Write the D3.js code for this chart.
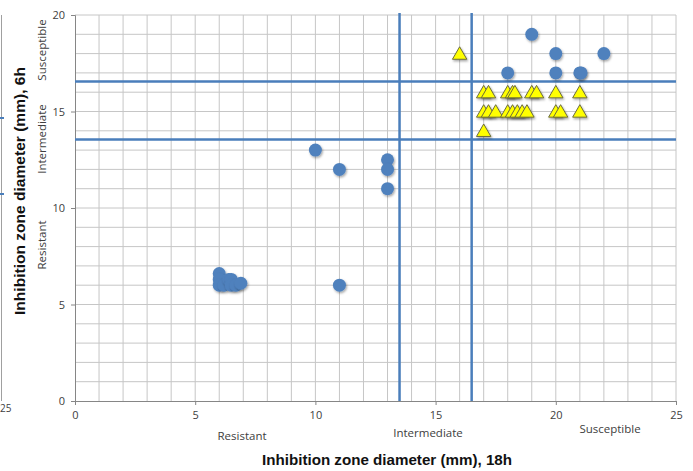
<!DOCTYPE html>
<html>
<head>
<meta charset="utf-8">
<script src="https://cdn.jsdelivr.net/npm/d3@7"></script>
<style>
  body { margin: 0; background: #fff; }
  svg { display: block; }
</style>
</head>
<body>
<script>
const w = 693;
const h = 471;

// circles: [18h diameter, 6h diameter]
const circlePoints = [
  [19, 19], [20, 18], [22, 18], [18, 17], [20, 17], [21, 17], [21.05, 17],
  [10, 13], [11, 12], [13, 12.5], [13, 12], [13, 11], [11, 6],
  [6, 6.6], [6, 6.3], [6, 6], [6.2, 6], [6.4, 6.3], [6.5, 6.3], [6.5, 6], [6.7, 6], [6.9, 6.1]
];
// triangles
const trianglePoints = [
  [16, 18], [17, 14],
  [17, 16], [17.2, 16], [18, 16], [18.2, 16], [18.3, 16], [19, 16], [19.2, 16], [20, 16], [21, 16],
  [17, 15], [17.2, 15], [17.5, 15], [18, 15], [18.2, 15], [18.4, 15], [18.6, 15], [18.8, 15], [20, 15], [20.2, 15], [21, 15]
];
const xCutoffs = [13.5, 16.5];
const yCutoffs = [13.5, 16.5];
const xTicks = [0, 5, 10, 15, 20, 25];
const yTicks = [0, 5, 10, 15, 20];
const xCategories = [
  { label: "Resistant", x: 242, y: 437 },
  { label: "Intermediate", x: 428, y: 434 },
  { label: "Susceptible", x: 610, y: 430 }
];
const yCategories = [
  { label: "Susceptible", y: 50 },
  { label: "Intermediate", y: 139 },
  { label: "Resistant", y: 245 }
];

const blue = "#4a7ebb";
const tickFont = "'Open Sans', sans-serif";

const svg = d3.select("body")
  .append("svg")
  .attr("width", w)
  .attr("height", h);

let xScale = d3.scaleLinear().domain([0, 25]).range([75, 676]);
let yScale = d3.scaleLinear().domain([0, 20]).range([401, 15]);

// leftover piece of a neighbouring chart at the left edge
svg.append("line")
  .attr("x1", 1.5).attr("x2", 1.5).attr("y1", 15).attr("y2", 401)
  .attr("stroke", "#a0a0a0").attr("stroke-width", 1);
[118, 194].forEach(y => {
  svg.append("line")
    .attr("x1", 0).attr("x2", 4).attr("y1", y).attr("y2", y)
    .attr("stroke", blue).attr("stroke-width", 2);
});
svg.append("text")
  .attr("x", 0).attr("y", 412)
  .style("font-family", tickFont).style("font-size", "10px").attr("fill", "#404040")
  .text("25");

// gridlines
svg.append("g")
  .selectAll("line")
  .data(d3.range(1, 26))
  .enter()
  .append("line")
  .attr("x1", d => xScale(d)).attr("x2", d => xScale(d))
  .attr("y1", yScale(20)).attr("y2", yScale(0))
  .attr("stroke", "#c6c6c6").attr("stroke-width", 1);
svg.append("g")
  .selectAll("line")
  .data(d3.range(1, 21))
  .enter()
  .append("line")
  .attr("x1", xScale(0)).attr("x2", xScale(25))
  .attr("y1", d => yScale(d)).attr("y2", d => yScale(d))
  .attr("stroke", "#c6c6c6").attr("stroke-width", 1);

// axes
let xAxis = d3.axisBottom(xScale).tickValues(xTicks).tickSize(4).tickPadding(6).tickFormat(d3.format("d"));
let yAxis = d3.axisLeft(yScale).tickValues(yTicks).tickSize(4).tickPadding(6).tickFormat(d3.format("d"));

let xAxisGroup = svg.append("g")
  .attr("transform", `translate(0, ${yScale(0)})`)
  .call(xAxis);
let yAxisGroup = svg.append("g")
  .attr("transform", `translate(${xScale(0)}, 0)`)
  .call(yAxis);

[xAxisGroup, yAxisGroup].forEach(g => {
  g.select(".domain").attr("stroke", "#868686");
  g.selectAll(".tick line").attr("stroke", "#868686");
  g.selectAll(".tick text")
    .style("font-family", tickFont)
    .style("font-size", "11px")
    .attr("fill", "#404040");
});

// cutoff lines
svg.append("g")
  .selectAll("line")
  .data(xCutoffs)
  .enter()
  .append("line")
  .attr("x1", d => xScale(d)).attr("x2", d => xScale(d))
  .attr("y1", yScale(20) - 2).attr("y2", yScale(0))
  .attr("stroke", blue).attr("stroke-width", 2.5);
svg.append("g")
  .selectAll("line")
  .data(yCutoffs)
  .enter()
  .append("line")
  .attr("x1", xScale(0)).attr("x2", xScale(25))
  .attr("y1", d => yScale(d) - 1).attr("y2", d => yScale(d) - 1)
  .attr("stroke", blue).attr("stroke-width", 2.5);

// markers
let defs = svg.append("defs");
let shadow = defs.append("filter").attr("id", "shadow")
  .attr("x", "-50%").attr("y", "-50%").attr("width", "200%").attr("height", "200%");
shadow.append("feDropShadow")
  .attr("dx", 1).attr("dy", 1.5).attr("stdDeviation", 1)
  .attr("flood-color", "#000").attr("flood-opacity", 0.35);

svg.append("g")
  .selectAll("circle")
  .data(circlePoints)
  .enter()
  .append("circle")
  .attr("cx", d => xScale(d[0]))
  .attr("cy", d => yScale(d[1]))
  .attr("r", 6.5)
  .attr("fill", "#4f81bd")
  .attr("filter", "url(#shadow)");

let tri = d3.symbol().type(d3.symbolTriangle).size(90);
svg.append("g")
  .selectAll("path")
  .data(trianglePoints)
  .enter()
  .append("path")
  .attr("d", tri)
  .attr("transform", d => `translate(${xScale(d[0])}, ${yScale(d[1]) + 1.5})`)
  .attr("fill", "#ffff00")
  .attr("stroke", "#6b6b3a")
  .attr("stroke-width", 1)
  .attr("filter", "url(#shadow)");

// category labels
svg.append("g")
  .selectAll("text")
  .data(xCategories)
  .enter()
  .append("text")
  .attr("x", d => d.x).attr("y", d => d.y)
  .attr("text-anchor", "middle").attr("dominant-baseline", "middle")
  .style("font-family", tickFont).style("font-size", "11.5px")
  .attr("fill", "#404040")
  .text(d => d.label);
svg.append("g")
  .selectAll("text")
  .data(yCategories)
  .enter()
  .append("text")
  .attr("transform", d => `translate(43, ${d.y}) rotate(-90)`)
  .attr("text-anchor", "middle").attr("dominant-baseline", "middle")
  .style("font-family", tickFont).style("font-size", "11.5px")
  .attr("fill", "#404040")
  .text(d => d.label);

// axis titles
svg.append("text")
  .attr("x", 387).attr("y", 461)
  .attr("text-anchor", "middle").attr("dominant-baseline", "middle")
  .attr("textLength", 250).attr("lengthAdjust", "spacingAndGlyphs")
  .style("font-family", "'Liberation Sans', Arial, sans-serif")
  .style("font-size", "14.5px").style("font-weight", "bold")
  .attr("fill", "#111")
  .text("Inhibition zone diameter (mm), 18h");
svg.append("text")
  .attr("transform", "translate(21, 191) rotate(-90)")
  .attr("text-anchor", "middle").attr("dominant-baseline", "middle")
  .attr("textLength", 248).attr("lengthAdjust", "spacingAndGlyphs")
  .style("font-family", "'Liberation Sans', Arial, sans-serif")
  .style("font-size", "14.5px").style("font-weight", "bold")
  .attr("fill", "#111")
  .text("Inhibition zone diameter (mm), 6h");
</script>
</body>
</html>
